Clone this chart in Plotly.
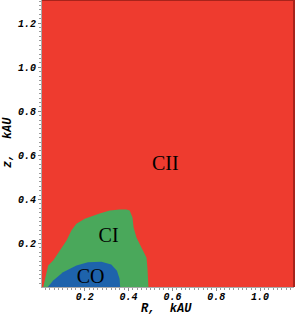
import plotly.graph_objects as go

# Boundary of the CI (green) region: (R, z) in kAU
ci_R = [0.01, 0.018, 0.033, 0.056, 0.086, 0.117, 0.139, 0.162, 0.200, 0.253, 0.268, 0.314, 0.359,
        0.390, 0.405, 0.418, 0.423, 0.436, 0.459, 0.482, 0.486, 0.491]
ci_z = [0.0, 0.040, 0.100, 0.123, 0.168, 0.214, 0.259, 0.290, 0.313, 0.332, 0.336, 0.350, 0.355,
        0.355, 0.350, 0.318, 0.273, 0.227, 0.182, 0.136, 0.091, 0.0]

# Boundary of the CO (blue) region
co_R = [0.029, 0.056, 0.101, 0.162, 0.215, 0.276, 0.321, 0.347, 0.359, 0.362]
co_z = [0.0, 0.032, 0.070, 0.100, 0.115, 0.118, 0.105, 0.077, 0.040, 0.0]

labels = ["CII", "CI", "CO"]
label_R = [0.568, 0.309, 0.227]
label_z = [0.555, 0.232, 0.045]

x_ticks = [0.2, 0.4, 0.6, 0.8, 1.0]
y_ticks = [0.2, 0.4, 0.6, 0.8, 1.0, 1.2]
x_title = "R,  kAU"
y_title = "z,  kAU"

RED = "#EE3B2F"
GREEN = "#4AA85B"
BLUE = "#1E63AC"

fig = go.Figure()
fig.add_trace(go.Scatter(x=ci_R, y=ci_z, fill="toself", fillcolor=GREEN, mode="lines",
                         line=dict(width=0, color=GREEN), hoverinfo="skip"))
fig.add_trace(go.Scatter(x=co_R, y=co_z, fill="toself", fillcolor=BLUE, mode="lines",
                         line=dict(width=0, color=BLUE), hoverinfo="skip"))
fig.add_trace(go.Scatter(x=label_R, y=label_z, mode="text", text=labels,
                         textfont=dict(family="Liberation Serif", size=20, color="black"),
                         hoverinfo="skip"))

tickfont = dict(family="Liberation Mono", size=10, color="black", weight="bold", style="italic")
titlefont = dict(family="Liberation Mono", size=12, color="black", weight="bold", style="italic")

fig.update_layout(
    width=296, height=316,
    margin=dict(l=42, r=2, t=0, b=29, autoexpand=False),
    paper_bgcolor="white",
    plot_bgcolor=RED,
    showlegend=False,
    xaxis=dict(range=[0.005, 1.155], tickvals=x_ticks, ticktext=[f"{v:.1f}" for v in x_ticks],
               ticks="outside", ticklen=3, tickcolor="#888", showgrid=False, zeroline=False,
               showline=True, linecolor="#aaa", linewidth=1, automargin=False,
               ticklabelstandoff=-3,
               minor=dict(dtick=0.02, ticks="outside", ticklen=2, tickcolor="#999", showgrid=False),
               tickfont=tickfont),
    yaxis=dict(range=[0.003, 1.305], tickvals=y_ticks, ticktext=[f"{v:.1f}" for v in y_ticks],
               ticks="outside", ticklen=3, tickcolor="#888", showgrid=False, zeroline=False,
               showline=True, linecolor="#aaa", linewidth=1, automargin=False,
               minor=dict(dtick=0.02, ticks="outside", ticklen=2, tickcolor="#999", showgrid=False),
               tickfont=tickfont),
)
fig.add_annotation(text=x_title, xref="paper", yref="paper", x=0.496, y=-22 / 287,
                   xanchor="center", yanchor="middle", showarrow=False, font=titlefont)
fig.add_annotation(text=y_title, xref="paper", yref="paper", x=-34 / 252, y=0.502,
                   xanchor="center", yanchor="middle", showarrow=False, font=titlefont,
                   textangle=-90)
fig.add_shape(type="line", xref="paper", yref="paper", x0=0, x1=1, y0=1, y1=1,
              line=dict(color="#A8231B", width=2))
fig.add_shape(type="line", xref="paper", yref="paper", x0=1, x1=1, y0=0, y1=1,
              line=dict(color="#A8231B", width=2))

fig.write_html("out.html", config={"displayModeBar": False},
               post_script="document.body.style.margin='0';")
